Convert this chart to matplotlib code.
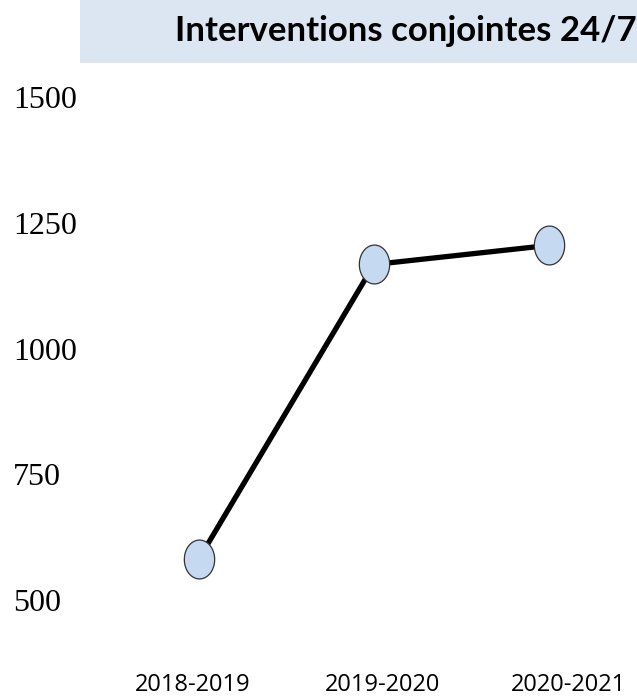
import numpy as np
import matplotlib.pyplot as plt
from matplotlib.path import Path
from matplotlib.patches import Rectangle
from matplotlib.transforms import ScaledTranslation

years = ['2018-2019', '2019-2020', '2020-2021']
interventions = [582, 1167, 1205]
yticks = [500, 750, 1000, 1250, 1500]
title = 'Interventions conjointes 24/7'

W, H, DPI = 637, 696, 100
fig = plt.figure(figsize=(W / DPI, H / DPI), dpi=DPI)

# light blue title band
fig.patches.append(Rectangle((80 / W, (H - 63) / H), 1 - 80 / W, 63 / H,
                             transform=fig.transFigure, facecolor='#DCE6F2',
                             edgecolor='none', zorder=0))
fig.text(637 / W, 1 - 31 / H, title, ha='right', va='center',
         fontsize=25, fontweight='bold', family='Lato')

# axes placed in pixels
L, R, T, B = 100, 637, 70, 630
ax = fig.add_axes([L / W, (H - B) / H, (R - L) / W, (B - T) / H])
ax.patch.set_alpha(0)
for s in ax.spines.values():
    s.set_visible(False)

px_per_unit = (600 - 97) / 1000
ax.set_ylim(500 - (B - 600) / px_per_unit, 1500 + (97 - T) / px_per_unit)
ax.set_xlim(-(199 - L) / 175, (R - 199) / 175)

# ellipse marker, taller than wide
t = np.linspace(0, 2 * np.pi, 60)
ell = Path(np.column_stack([0.78 * np.cos(t), np.sin(t)]), closed=True)

x = np.arange(len(years))
ax.plot(x, interventions, color='black', lw=3.8, solid_capstyle='butt', zorder=2)
ax.plot(x, interventions, ls='none', marker=ell, markersize=28,
        markerfacecolor='#C5D9F1', markeredgecolor='#333333',
        markeredgewidth=0.9, zorder=3)

ax.set_yticks(yticks)
ax.set_yticklabels([str(v) for v in yticks], family='Liberation Serif',
                   fontsize=23, ha='left')
ax.tick_params(axis='y', length=0, pad=(L - 13) * 72 / DPI)

ax.set_xticks(x)
ax.set_xticklabels(years, family='Open Sans', fontsize=17)
ax.tick_params(axis='x', length=0, pad=31)
for lab, dx in zip(ax.get_xticklabels(), [-6, 9, 19]):
    lab.set_transform(lab.get_transform() + ScaledTranslation(dx / DPI, 0, fig.dpi_scale_trans))

fig.savefig('out.png', dpi=DPI)
